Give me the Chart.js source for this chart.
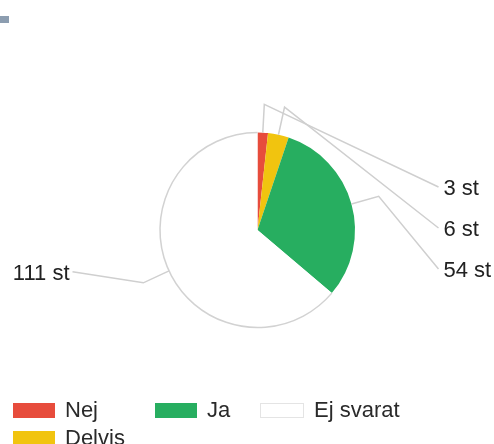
<!DOCTYPE html>
<html>
<head>
<meta charset="utf-8">
<script src="https://cdn.jsdelivr.net/npm/chart.js@4/dist/chart.umd.min.js"></script>
<style>
    html, body { margin: 0; padding: 0; background: #fff; }
    #wrap { position: relative; width: 494px; height: 444px; overflow: hidden; }
    #pieChart { position: absolute; left: 0; top: 0; }
    #corner { position: absolute; left: 0; top: 16px; width: 9px; height: 7px; background: #8c9db0; }
    #legend {
        position: absolute; left: 13px; top: 396px;
        display: grid; grid-template-columns: 142px 105px auto; grid-auto-rows: 28px;
        font-family: "Liberation Sans", Arial, sans-serif; font-size: 22px; color: #2a2a2a;
    }
    .item { display: flex; align-items: center; white-space: nowrap; }
    .box { width: 42px; height: 15px; margin-right: 10px; box-sizing: border-box; }
</style>
</head>
<body>
<div id="wrap">
    <canvas id="pieChart" width="494" height="444"></canvas>
    <div id="corner"></div>
    <div id="legend"></div>
</div>
<script>
const categories = ['Nej', 'Delvis', 'Ja', 'Ej svarat'];
const answerCounts = [3, 6, 54, 111];
const valueLabels = ['3 st', '6 st', '54 st', '111 st'];
const sliceColors = ['#e74c3c', '#f1c40f', '#27ae60', '#ffffff'];
const legendOrder = [0, 2, 3, 1];

// grey outline only along the "Ej svarat" arc, plus leader lines and labels
const pieLabels = {
    id: 'pieLabels',
    afterDatasetsDraw(chart) {
        const ctx = chart.ctx;
        const arcs = chart.getDatasetMeta(0).data;
        ctx.save();

        const last = arcs[arcs.length - 1];
        ctx.strokeStyle = '#d2d2d2';
        ctx.lineWidth = 1.5;
        ctx.beginPath();
        ctx.arc(last.x, last.y, last.outerRadius, last.startAngle, last.endAngle);
        ctx.stroke();

        ctx.font = '22px "Liberation Sans", Arial, sans-serif';
        ctx.fillStyle = '#222';
        ctx.textBaseline = 'middle';
        let rightIndex = 0;
        arcs.forEach((arc, i) => {
            const mid = (arc.startAngle + arc.endAngle) / 2;
            const r = arc.outerRadius;
            const ex = arc.x + Math.cos(mid) * r;
            const ey = arc.y + Math.sin(mid) * r;
            const bx = arc.x + Math.cos(mid) * r * 1.29;
            const by = arc.y + Math.sin(mid) * r * 1.29;
            let lx, ly, tx;
            if (Math.cos(mid) >= 0) {
                lx = arc.x + 181;
                ly = arc.y - 43 + rightIndex * 41;
                tx = lx + 5;
                ctx.textAlign = 'left';
                rightIndex++;
            } else {
                lx = arc.x - 185;
                ly = by - 11;
                tx = lx - 3;
                ctx.textAlign = 'right';
            }
            ctx.strokeStyle = '#cfcfcf';
            ctx.lineWidth = 1.5;
            ctx.beginPath();
            ctx.moveTo(ex, ey);
            ctx.lineTo(bx, by);
            ctx.lineTo(lx, ly);
            ctx.stroke();
            ctx.fillText(valueLabels[i], tx, ly + 2);
        });
        ctx.restore();
    }
};

new Chart(document.getElementById('pieChart'), {
    type: 'pie',
    data: {
        labels: categories,
        datasets: [{
            data: answerCounts,
            backgroundColor: sliceColors,
            borderWidth: 0
        }]
    },
    options: {
        responsive: false,
        animation: false,
        layout: { padding: { left: 160, right: 139, top: 132.5, bottom: 116.5 } },
        plugins: {
            legend: { display: false },
            tooltip: { enabled: false }
        }
    },
    plugins: [pieLabels]
});

const legend = document.getElementById('legend');
legendOrder.forEach(i => {
    const item = document.createElement('div');
    item.className = 'item';
    const box = document.createElement('span');
    box.className = 'box';
    box.style.background = sliceColors[i];
    if (sliceColors[i] === '#ffffff') {
        box.style.border = '1px solid #e4e4e4';
        box.style.width = '44px';
    }
    item.appendChild(box);
    item.appendChild(document.createTextNode(categories[i]));
    legend.appendChild(item);
});
</script>
</body>
</html>
